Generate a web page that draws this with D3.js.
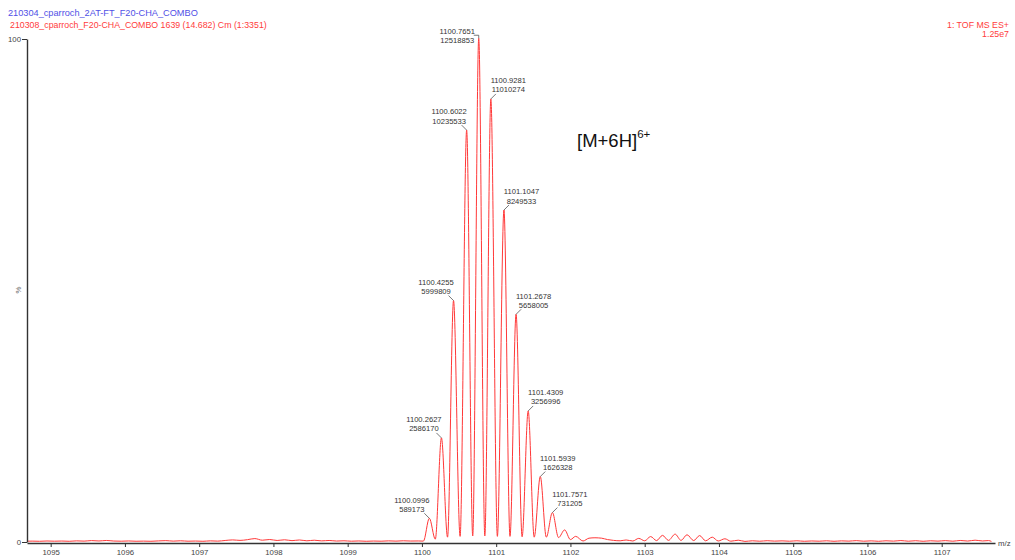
<!DOCTYPE html>
<html>
<head>
<meta charset="utf-8">
<script src="https://cdn.jsdelivr.net/npm/d3@7"></script>
<style>
  body { margin: 0; background: #fff; }
  svg { display: block; }
  text { font-family: "Liberation Sans", Arial, sans-serif; }
</style>
</head>
<body>
<svg id="chart" width="1015" height="560"></svg>
<script>
// Full-scale intensity of the trace (shown top right)
const fullScale = 1.25e7;
const mzDomain = [1094.681, 1107.718];
const xTickValues = [1095, 1096, 1097, 1098, 1099, 1100, 1101, 1102, 1103, 1104, 1105, 1106, 1107];

// Labelled isotope peaks of the 6+ ion: [m/z, intensity]
const labelledPeaks = [
  [1100.0996, 589173],
  [1100.2627, 2586170],
  [1100.4255, 5999809],
  [1100.6022, 10235533],
  [1100.7651, 12518853],
  [1100.9281, 11010274],
  [1101.1047, 8249533],
  [1101.2678, 5658005],
  [1101.4309, 3256996],
  [1101.5939, 1626328],
  [1101.7571, 731205]
];

// Valleys between isotope peaks and the small unlabelled tail peaks
const clusterValleys = [
  [1100.02, 22000],
  [1100.18, 70000],
  [1100.345, 120000],
  [1100.514, 140000],
  [1100.684, 150000],
  [1100.847, 150000],
  [1101.016, 140000],
  [1101.186, 140000],
  [1101.349, 130000],
  [1101.512, 120000],
  [1101.675, 120000],
  [1101.84, 110000],
  [1101.922, 300000],
  [1102.00, 60000],
  [1102.07, 140000],
  [1102.17, 25000]
];

// Baseline below the cluster
const baselineLow = [
  [1094.68, 20000], [1094.75, 22000], [1094.85, 18000], [1094.95, 25000],
  [1095.05, 20000], [1095.15, 24000], [1095.25, 18000], [1095.35, 28000],
  [1095.45, 22000], [1095.55, 35000], [1095.65, 26000], [1095.75, 38000],
  [1095.85, 24000], [1095.95, 20000], [1096.05, 26000], [1096.15, 19000],
  [1096.25, 22000], [1096.35, 18000], [1096.45, 27000], [1096.55, 34000],
  [1096.65, 22000], [1096.75, 30000], [1096.85, 20000], [1096.95, 24000],
  [1097.05, 18000], [1097.15, 28000], [1097.25, 22000], [1097.35, 38000],
  [1097.45, 52000], [1097.55, 40000], [1097.65, 58000], [1097.75, 85000],
  [1097.85, 45000], [1097.95, 62000], [1098.05, 38000], [1098.15, 55000],
  [1098.25, 34000], [1098.35, 50000], [1098.45, 30000], [1098.55, 44000],
  [1098.65, 28000], [1098.75, 38000], [1098.85, 24000], [1098.95, 30000],
  [1099.05, 20000], [1099.15, 26000], [1099.25, 18000], [1099.35, 24000],
  [1099.45, 20000], [1099.55, 28000], [1099.65, 22000], [1099.75, 30000],
  [1099.85, 24000], [1099.95, 26000]
];

// Baseline above the cluster, with the ripple near 1103
const baselineHigh = [
  [1102.25, 95000], [1102.33, 105000], [1102.42, 95000], [1102.50, 60000],
  [1102.58, 40000], [1102.67, 30000], [1102.75, 50000], [1102.84, 25000],
  [1102.92, 90000], [1103.00, 30000], [1103.08, 135000], [1103.16, 35000],
  [1103.24, 165000], [1103.32, 40000], [1103.41, 195000], [1103.49, 40000],
  [1103.57, 180000], [1103.66, 35000], [1103.74, 160000], [1103.82, 30000],
  [1103.91, 120000], [1103.99, 25000], [1104.08, 80000], [1104.16, 20000],
  [1104.26, 45000], [1104.35, 15000], [1104.45, 30000], [1104.55, 20000],
  [1104.65, 32000], [1104.75, 22000], [1104.85, 28000], [1104.95, 20000],
  [1105.05, 30000], [1105.15, 18000], [1105.25, 26000], [1105.35, 20000],
  [1105.45, 30000], [1105.55, 18000], [1105.65, 28000], [1105.75, 22000],
  [1105.85, 34000], [1105.95, 20000], [1106.05, 28000], [1106.15, 18000],
  [1106.25, 30000], [1106.35, 22000], [1106.45, 36000], [1106.55, 20000],
  [1106.65, 32000], [1106.75, 18000], [1106.85, 30000], [1106.95, 22000],
  [1107.05, 34000], [1107.15, 20000], [1107.25, 38000], [1107.35, 24000],
  [1107.45, 45000], [1107.55, 26000], [1107.63, 35000], [1107.67, 15000]
];

const headerLines = [
  "210304_cparroch_2AT-FT_F20-CHA_COMBO",
  "210308_cparroch_F20-CHA_COMBO 1639 (14.682) Cm (1:3351)"
];
const traceInfo = ["1: TOF MS ES+", "1.25e7"];

const svg = d3.select("#chart");
const x = d3.scaleLinear().domain(mzDomain).range([27, 995]);
const y = d3.scaleLinear().domain([0, fullScale]).range([542, 39]);

// Header
svg.append("text").attr("x", 8).attr("y", 15.5)
  .attr("font-size", 9.2).attr("fill", "#5050e6").text(headerLines[0]);
svg.append("text").attr("x", 10).attr("y", 27.5)
  .attr("font-size", 8.8).attr("fill", "#ff3c3c").text(headerLines[1]);
svg.append("text").attr("x", 1009).attr("y", 27.5).attr("text-anchor", "end")
  .attr("font-size", 8.8).attr("fill", "#ff3c3c").text(traceInfo[0]);
svg.append("text").attr("x", 1009).attr("y", 36.5).attr("text-anchor", "end")
  .attr("font-size", 8.8).attr("fill", "#ff3c3c").text(traceInfo[1]);

// Spectrum trace
const profile = [...baselineLow, ...labelledPeaks, ...clusterValleys, ...baselineHigh]
  .sort((a, b) => a[0] - b[0]);
const line = d3.line()
  .x(d => x(d[0]))
  .y(d => y(d[1]))
  .curve(d3.curveMonotoneX);
svg.append("path").datum(profile)
  .attr("d", line)
  .attr("fill", "none")
  .attr("stroke", "#ff3838")
  .attr("stroke-width", 1);

// X axis
const xAxis = d3.axisBottom(x).tickValues(xTickValues).tickSize(4).tickSizeOuter(0)
  .tickFormat(d3.format("d"));
const gx = svg.append("g").attr("transform", "translate(0,543)").call(xAxis);
gx.select(".domain").attr("stroke", "#333").attr("stroke-width", 1.4);
gx.selectAll(".tick line").attr("stroke", "#333");
gx.selectAll(".tick text").attr("font-size", 7.8).attr("fill", "#444")
  .attr("font-family", "Liberation Sans, Arial, sans-serif").attr("dy", "0.6em");
svg.append("text").attr("x", 998).attr("y", 546).attr("font-size", 7.8)
  .attr("fill", "#444").text("m/z");

// Y axis (percent of full scale)
const yPct = d3.scaleLinear().domain([0, 100]).range([542, 39]);
const yAxis = d3.axisLeft(yPct).tickValues([0, 100]).tickSize(5).tickSizeOuter(0);
const gy = svg.append("g").attr("transform", "translate(27,0)").call(yAxis);
gy.select(".domain").attr("stroke", "#333").attr("stroke-width", 1.4);
gy.selectAll(".tick line").attr("stroke", "#333");
gy.selectAll(".tick text").attr("font-size", 7.8).attr("fill", "#444")
  .attr("font-family", "Liberation Sans, Arial, sans-serif").attr("x", -6);
svg.append("text").attr("transform", "translate(21,290) rotate(-90)")
  .attr("text-anchor", "middle").attr("font-size", 7.8).attr("fill", "#666").text("%");

// Peak labels with leader lines
const apexMz = d3.greatest(labelledPeaks, d => d[1])[0];
const labels = svg.append("g");
labelledPeaks.forEach(([mz, inten]) => {
  const px = x(mz), py = y(inten);
  const left = mz <= apexMz;
  const clamped = py - 18.5 < 33;
  const top = clamped ? 31 : py - 18.5;
  const cx = left ? px - (clamped ? 21.5 : 17.5) : px + 17.5;
  const g = labels.append("g").attr("font-size", 7.6).attr("fill", "#333")
    .attr("text-anchor", "middle");
  g.append("text").attr("x", cx).attr("y", top + 2.8).text(mz.toFixed(4));
  g.append("text").attr("x", cx).attr("y", top + 12).text(String(inten));
  const d = clamped
    ? `M${px - 5},${py - 3}L${px},${py - 3}L${px},${py}`
    : `M${left ? px - 5 : px + 5},${py - 5}L${px},${py}`;
  labels.append("path").attr("d", d)
    .attr("stroke", "#555").attr("stroke-width", 0.8).attr("fill", "none");
});

// Ion annotation
const ion = svg.append("text").attr("x", 577).attr("y", 146.5)
  .attr("font-size", 18.5).attr("fill", "#111");
ion.append("tspan").text("[M+6H]");
ion.append("tspan").attr("font-size", 11.5).attr("dy", -8.5).text("6+");
</script>
</body>
</html>
